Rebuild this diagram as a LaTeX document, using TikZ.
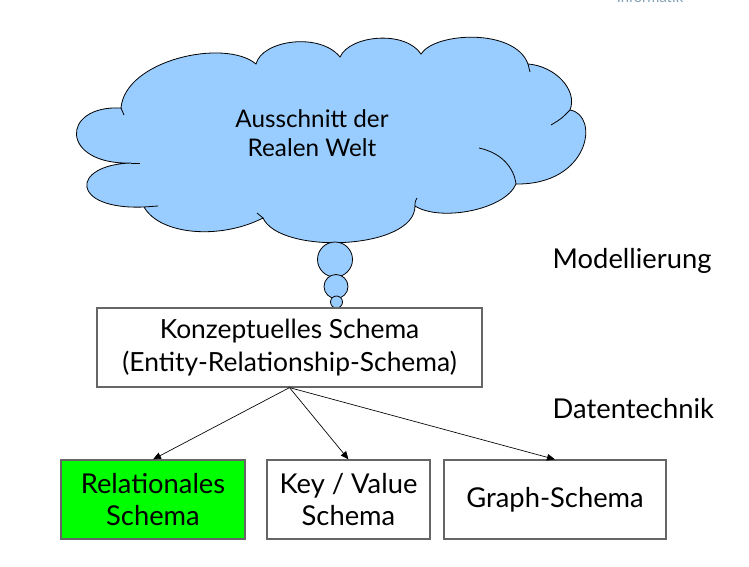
\documentclass[tikz,border=0pt]{standalone}
\usepackage{fontspec}
\setmainfont{Lato}
\usetikzlibrary{positioning,arrows.meta}
\definecolor{wolkenblau}{RGB}{153,204,255}
\definecolor{relgruen}{RGB}{0,255,0}
\definecolor{fachgrau}{RGB}{127,159,181}

\begin{document}
\begin{tikzpicture}[x=0.75pt, y=-0.75pt,
    schema/.style={draw=black!60, line width=0.9pt, minimum height=59.25pt, inner sep=0pt, align=center, font=\fontsize{20.5}{24.5}\selectfont},
    ebene/.style={anchor=west, font=\fontsize{20.5}{24}\selectfont},
    pfeil/.style={-{Triangle[length=6pt,width=5pt]}, line width=0.5pt},
    wolke/.style={draw=black, line width=0.6pt, fill=wolkenblau}]
    \useasboundingbox (0,0) rectangle (749,567);
    \clip (0,0) rectangle (749,567);
    \node[anchor=base, text=fachgrau, font=\fontsize{11}{13}\selectfont] (fach) at (650,3) {Informatik};

    % Wolke
    \draw[wolke] (121,108) .. controls (125,60) and (225,38) .. (256,64)
        .. controls (262,40) and (320,32) .. (340,57)
        .. controls (350,35) and (405,30) .. (421,54)
        .. controls (435,32) and (515,28) .. (528,64)
        .. controls (555,66) and (578,90) .. (570,110)
        .. controls (600,115) and (590,185) .. (516,184)
        .. controls (505,210) and (440,222) .. (415,206)
        .. controls (415,250) and (280,255) .. (263,218)
        .. controls (220,240) and (160,235) .. (144,207)
        .. controls (70,210) and (70,165) .. (131,163)
        .. controls (60,165) and (60,105) .. cycle;
    \draw[line width=0.6pt] (551,125) .. controls (561,119) .. (570,110);
    \draw[line width=0.6pt] (479,148) .. controls (502,153) and (514,168) .. (516,184);
    \draw[line width=0.6pt] (144,207) -- (158,206);
    \draw[line width=0.6pt] (121,108) .. controls (122,112) .. (124,115);
    \draw[line width=0.6pt] (131,163) -- (140,163);
    \draw[line width=0.6pt] (263,218) .. controls (260,215) .. (257,213);
    \draw[line width=0.6pt] (415,206) .. controls (415,202) .. (417,198);
    \draw[line width=0.6pt] (528,64) .. controls (529,68) .. (530,72);
    \node[align=center, font=\fontsize{18.2}{21.75}\selectfont] (welt) at (312,133) {Ausschnitt der\\Realen Welt};

    % Gedankenblasen
    \draw[wolke] (335,259.5) circle[radius=17.5];
    \draw[wolke] (336,286.5) circle[radius=12];
    \draw[wolke] (336.5,302) circle[radius=6];

    % Schemata
    \node[schema, minimum width=288.75pt, font=\fontsize{19.8}{24.75}\selectfont] (konzept) at (289.5,347.5) {Konzeptuelles Schema\\(Entity-Relationship-Schema)};
    \node[schema, minimum width=138pt, fill=relgruen] (relational) at (153,499.5) {Relationales\\Schema};
    \node[schema, minimum width=122.25pt] (keyvalue) at (348.5,499.5) {Key / Value\\Schema};
    \node[schema, minimum width=166.5pt] (graph) at (555,499.5) {Graph-Schema};

    \node[ebene] (modell) at (548,261) {Modellierung};
    \node[ebene] (technik) at (548,409) {Datentechnik};

    \draw[pfeil] (konzept.south) -- (relational.north);
    \draw[pfeil] (konzept.south) -- (keyvalue.north);
    \draw[pfeil] (konzept.south) -- (graph.north);
\end{tikzpicture}
\end{document}
